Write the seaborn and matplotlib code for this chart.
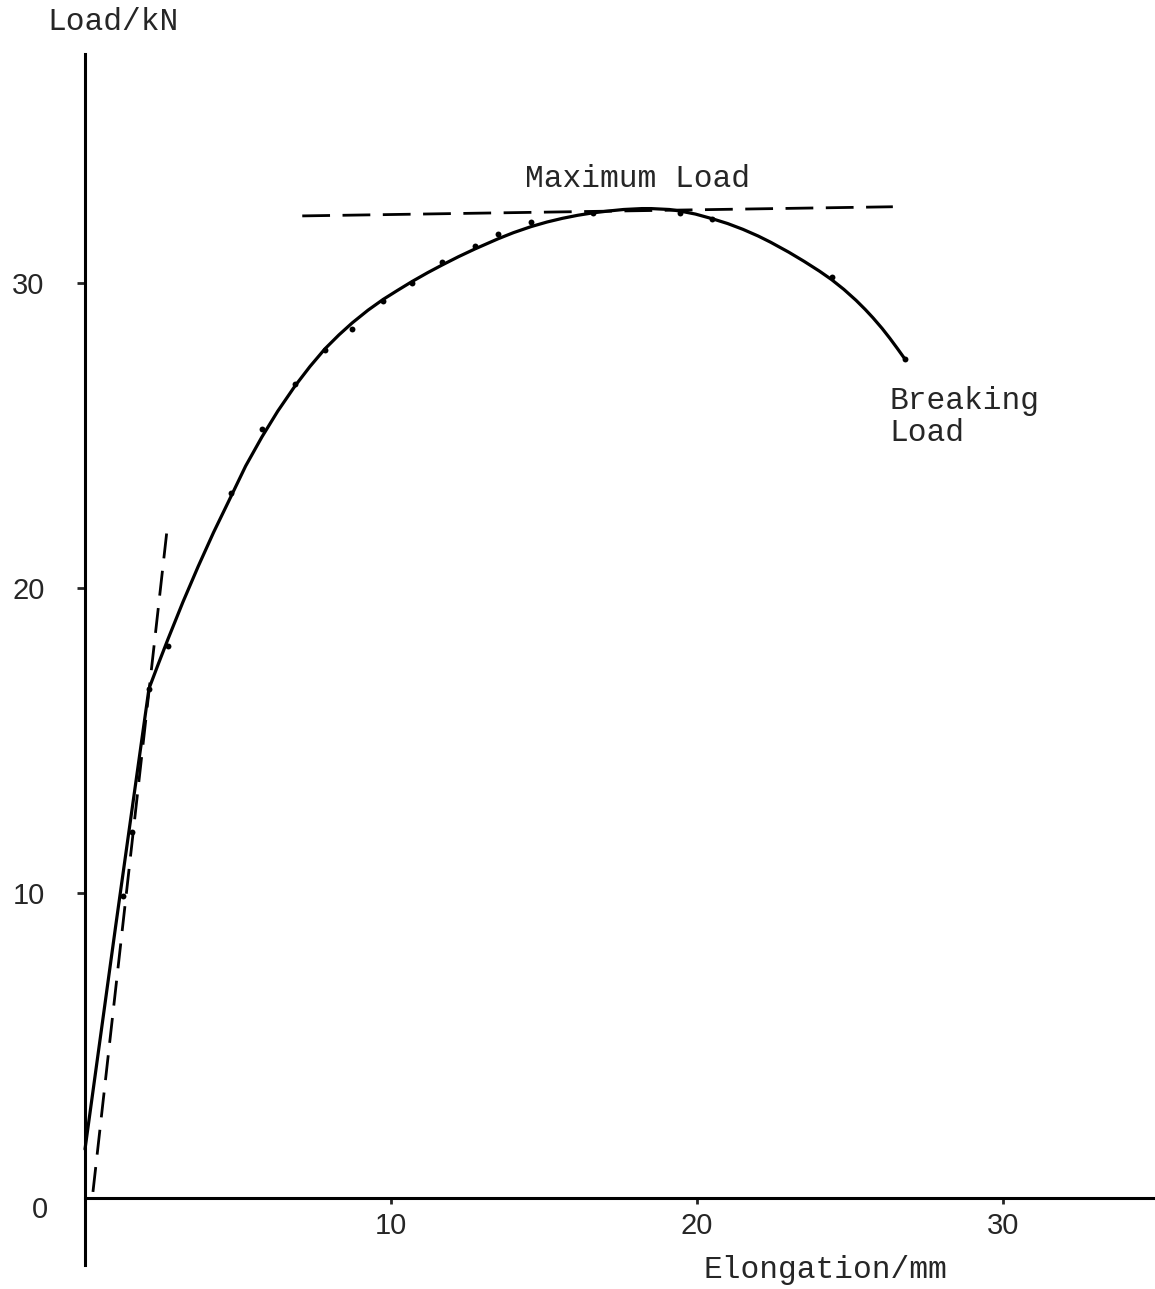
import matplotlib
matplotlib.use("Agg")
import matplotlib.pyplot as plt
import seaborn as sns
import pandas as pd

# measured points (Elongation / mm, Load / kN)
point_elong = [1.24, 1.54, 2.09, 2.71, 4.77, 5.78, 6.86, 7.84, 8.73, 9.74, 10.69,
               11.67, 12.75, 13.5, 14.58, 16.6, 19.44, 20.49, 24.4, 26.8]
point_load = [9.9, 12.0, 16.7, 18.1, 23.1, 25.2, 26.7, 27.8, 28.5, 29.4, 30.0,
              30.7, 31.2, 31.6, 32.0, 32.3, 32.3, 32.1, 30.2, 27.5]

# hand-drawn curve
curve_elong = [0.0, 1.0, 2.09, 2.4, 2.71, 3.2, 3.7, 4.2, 4.77, 5.25, 5.78, 6.3, 6.86,
               7.35, 7.84, 8.3, 8.73, 9.25, 9.74, 10.2, 10.69, 11.2, 11.67, 12.2,
               12.75, 13.5, 14.0, 14.58, 15.1, 15.6, 16.1, 16.6, 17.1, 17.6, 18.2,
               18.5, 19.1, 19.44, 19.95, 20.49, 21.0, 21.5, 22.0, 22.4, 23.0, 23.5,
               24.0, 24.4, 24.8, 25.2, 25.5, 25.75, 26.05, 26.3, 26.55, 26.8]
curve_load = [1.6, 8.9, 16.7, 17.52, 18.32, 19.54, 20.71, 21.82, 23.0, 24.0, 24.95,
              25.8, 26.62, 27.26, 27.84, 28.3, 28.69, 29.11, 29.46, 29.75, 30.05,
              30.34, 30.59, 30.86, 31.12, 31.45, 31.65, 31.85, 32.0, 32.12, 32.22,
              32.3, 32.36, 32.41, 32.44, 32.44, 32.41, 32.36, 32.26, 32.11, 31.95,
              31.76, 31.54, 31.34, 31.01, 30.71, 30.39, 30.11, 29.79, 29.43, 29.13,
              28.86, 28.51, 28.19, 27.85, 27.5]

# construction lines
maxload_elong = [7.1, 26.4]
maxload_load = [32.2, 32.5]
tangent_elong = [0.26, 2.68]
tangent_load = [0.2, 21.9]

x_ticks = [10, 20, 30]
y_ticks = [10, 20, 30]

sns.set_style("white")
plt.rcParams['font.family'] = ['Liberation Mono', 'DejaVu Sans Mono']

fig = plt.figure(figsize=(11.55, 12.89), dpi=100)
ax = fig.add_axes([0.00736, 0.01144, 0.99351, 0.97013])

curve = pd.DataFrame({"x": curve_elong, "y": curve_load})
pts = pd.DataFrame({"x": point_elong, "y": point_load})

sns.lineplot(data=curve, x="x", y="y", sort=False, color="black", lw=2.3, ax=ax)
sns.scatterplot(data=pts, x="x", y="y", color="black", s=18, edgecolor="black",
                linewidth=0, ax=ax, zorder=5)

ax.plot(maxload_elong, maxload_load, color="black", lw=2.0, dashes=(10, 4.5))
ax.plot(tangent_elong, tangent_load, color="black", lw=2.0, dashes=(9, 4.5))

ax.set_xlim(-2.5, 35.0)
ax.set_ylim(-2.5, 38.5)

for s in ["top", "right"]:
    ax.spines[s].set_visible(False)
ax.spines["left"].set_position(("data", 0))
ax.spines["bottom"].set_position(("data", 0))
ax.spines["left"].set_bounds(-2.2, 37.5)
ax.spines["bottom"].set_bounds(0, 35)
for s in ["left", "bottom"]:
    ax.spines[s].set_linewidth(2.2)
    ax.spines[s].set_color("black")

ax.set_xticks(x_ticks)
ax.set_yticks(y_ticks)
ax.set_xticklabels([str(v) for v in x_ticks], family="Liberation Sans", fontsize=21)
ax.set_yticklabels([str(v) for v in y_ticks], family="Liberation Sans", fontsize=21)
ax.tick_params(axis="x", direction="out", length=4, width=2, pad=6, bottom=True)
ax.tick_params(axis="y", direction="out", length=6, width=2, pad=23, left=True)
ax.set_xlabel("")
ax.set_ylabel("")

ax.text(-1.47, -0.4, "0", family="Liberation Sans", fontsize=21, ha="center", va="center")

ax.text(14.38, 33.4, "Maximum Load", fontsize=22.5, ha="left", va="center")
ax.text(26.3, 25.6, "Breaking\nLoad", fontsize=22.5, ha="left", va="center", linespacing=1.1)

fig.text(47 / 1155, 1 - 22 / 1289, "Load/kN", fontsize=22.5, ha="left", va="center")
fig.text(703 / 1155, 19 / 1289, "Elongation/mm", fontsize=22.5, ha="left", va="center")

fig.savefig("out.png", dpi=100)
